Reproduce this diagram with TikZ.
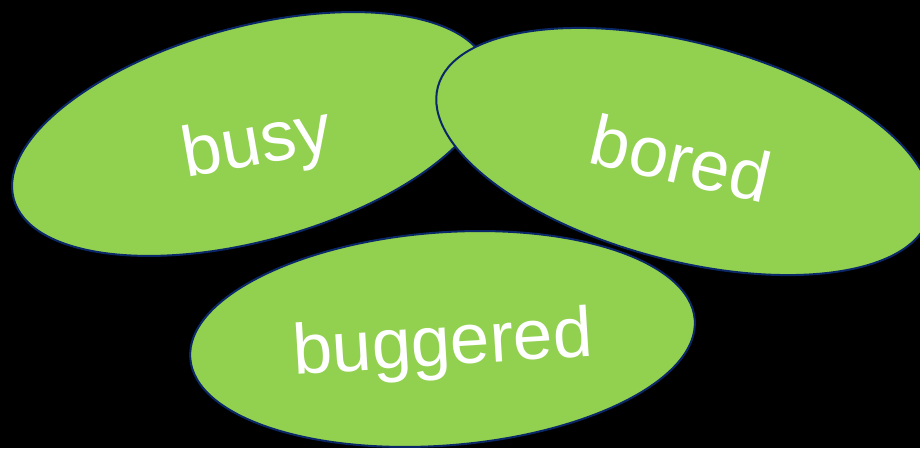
\documentclass[tikz,border=0pt]{standalone}
\usepackage{fontspec}
\setmainfont{Liberation Sans}
\usetikzlibrary{shapes.geometric}
\definecolor{blobgreen}{HTML}{92D050}
\definecolor{blobline}{HTML}{0A2868}
\tikzset{
  blob/.style={ellipse, fill=blobgreen, draw=blobline, line width=2pt, inner sep=0pt},
  word/.style={text=white, font=\fontsize{71}{85}\selectfont, inner sep=0pt}
}
\begin{document}
\begin{tikzpicture}[x=1pt,y=1pt]
\useasboundingbox (0,0) rectangle (920,448);
\fill[black] (0,0) rectangle (920,448);
\clip (0,0) rectangle (920,448);
\node[blob, minimum width=492pt, minimum height=214pt, rotate=15.3] (busyblob) at (251,314) {};
\node[blob, minimum width=508pt, minimum height=218pt, rotate=-14.7] (boredblob) at (683.5,296.5) {};
\node[blob, minimum width=506pt, minimum height=213pt, rotate=4.4] (buggeredblob) at (442.5,109) {};
\node[word, rotate=10] (busy) at (257,302) {busy};
\node[word, rotate=-13] (bored) at (681,290) {bored};
\node[word, rotate=3.5] (buggered) at (443,101) {buggered};
\end{tikzpicture}
\end{document}
